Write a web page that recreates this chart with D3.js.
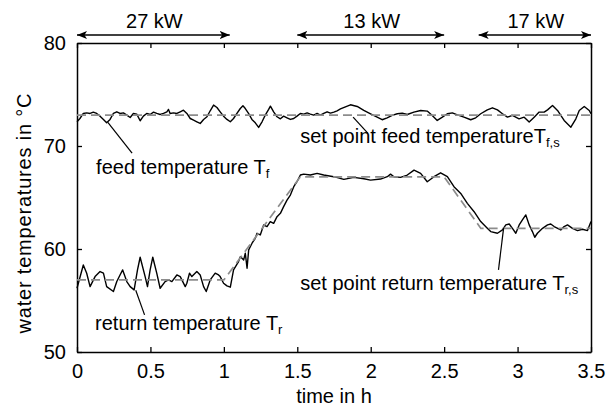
<!DOCTYPE html>
<html><head><meta charset="utf-8">
<script src="https://cdn.jsdelivr.net/npm/d3@7"></script>
<style>
body{margin:0;background:#fff}
text{font-family:"Liberation Sans",Arial,Helvetica,sans-serif;fill:#000}
</style>
</head><body><svg id="c" width="615" height="410"></svg>
<script>
// ---- data ----
const feedTime = [0,0.02,0.043,0.066,0.089,0.111,0.134,0.157,0.18,0.202,0.225,0.248,0.271,0.293,0.316,0.339,0.362,0.384,0.407,0.43,0.452,0.475,0.498,0.521,0.543,0.566,0.589,0.612,0.623,0.634,0.657,0.68,0.703,0.725,0.748,0.771,0.794,0.816,0.839,0.862,0.885,0.907,0.93,0.953,0.975,0.998,1.021,1.044,1.066,1.089,1.112,1.13,1.146,1.168,1.191,1.214,1.237,1.26,1.282,1.305,1.317,1.339,1.362,1.385,1.407,1.43,1.453,1.476,1.498,1.521,1.544,1.567,1.589,1.612,1.635,1.657,1.68,1.703,1.726,1.749,1.771,1.794,1.862,1.908,1.953,1.999,2.044,2.078,2.112,2.146,2.181,2.215,2.249,2.294,2.34,2.385,2.419,2.453,2.488,2.522,2.556,2.59,2.635,2.681,2.715,2.749,2.794,2.829,2.863,2.897,2.931,2.965,3.01,3.045,3.079,3.113,3.147,3.181,3.204,3.238,3.272,3.317,3.363,3.397,3.42,3.454,3.488,3.5];
const feedTemp = [72.35,72.67,73.16,73.22,73.16,73.29,73.16,72.9,72.58,72.25,72.58,73.16,73.32,73.16,73.22,73.0,72.77,73.16,73.1,72.45,72.9,73.16,73.06,73.29,73.16,73.06,73.16,73.32,73.55,73.16,73.22,73.16,73.32,73.48,73.16,72.67,72.51,72.35,72.19,72.58,72.84,73.42,73.97,73.74,73.32,72.9,72.58,72.35,72.67,73.16,73.64,73.9,73.64,73.16,72.58,72.25,71.8,72.35,73.0,73.55,73.87,73.32,72.84,72.64,72.9,72.74,72.58,72.67,72.9,73.16,73.1,73.22,73.1,73.0,73.16,73.0,73.16,73.32,73.19,73.29,73.42,73.6,74.0,73.84,73.45,73.13,72.8,72.55,72.74,72.97,73.13,73.19,73.06,73.29,73.45,73.39,72.97,72.48,72.8,73.13,73.22,73.03,72.8,72.55,72.74,73.13,73.51,73.71,73.51,73.13,72.8,72.97,72.64,72.8,72.32,72.8,73.29,73.29,73.51,73.93,73.45,72.48,71.83,72.64,73.45,73.84,73.45,73.13];

const returnTime = [0,0.043,0.066,0.089,0.123,0.157,0.18,0.202,0.248,0.271,0.293,0.311,0.339,0.362,0.389,0.412,0.43,0.464,0.48,0.498,0.516,0.543,0.566,0.6,0.623,0.646,0.68,0.703,0.737,0.748,0.766,0.782,0.816,0.839,0.862,0.88,0.907,0.941,0.964,0.975,0.998,1.021,1.044,
1.066,1.1,1.112,1.135,1.146,1.158,1.169,1.192,1.214,1.226,1.248,1.271,1.294,1.316,1.339,1.362,1.385,1.407,1.43,1.453,1.476,1.498,1.521,1.544,1.589,1.635,1.68,1.748,1.817,1.885,1.953,1.999,2.067,2.113,2.135,2.158,2.203,2.249,2.295,2.34,2.385,2.431,2.476,2.522,2.567,2.613,2.658,2.704,2.749,2.794,
2.817,2.863,2.897,2.92,2.943,2.965,2.988,3.011,3.033,3.056,3.079,3.101,3.117,3.135,3.17,3.204,3.226,3.249,3.294,3.317,3.34,3.374,3.408,3.442,3.476,3.5];
const returnTemp = [56.19,58.45,57.65,56.35,57.32,57.81,57.65,56.35,55.87,56.84,57.48,57.97,56.84,56.35,56.03,57.97,59.2,57.32,56.35,57.97,59.2,57.65,56.19,56.84,57.0,56.84,57.48,57.32,56.35,56.68,57.65,57.32,57.81,57.48,56.35,55.87,57.0,57.65,57.48,57.32,56.68,56.42,56.29,
57.97,58.78,59.26,58.94,59.59,58.13,59.91,60.56,61.04,61.52,61.36,62.33,62.17,62.66,62.49,63.14,63.46,64.11,64.75,65.24,66.05,66.53,67.18,67.27,67.18,67.34,67.18,67.02,66.76,66.95,66.82,66.69,66.79,67.02,67.27,67.02,66.95,67.18,67.66,67.34,66.53,67.02,67.4,67.02,66.05,65.4,64.43,63.62,62.66,62.01,
61.69,61.53,61.85,62.34,62.43,62.01,61.53,62.34,62.82,63.31,62.34,61.69,61.14,61.53,62.01,62.34,62.43,62.18,61.85,62.18,62.34,62.01,61.79,61.92,61.79,62.66];

const setFeedTime = [0, 3.5];
const setFeedTemp = [73, 73];
const setReturnTime = [0, 1.0, 1.52, 2.5, 2.75, 3.5];
const setReturnTemp = [57, 57, 67, 67, 62, 62];

const xTickValues = [0, 0.5, 1, 1.5, 2, 2.5, 3, 3.5];
const yTickValues = [50, 60, 70, 80];

const powerLabels = ["27 kW", "13 kW", "17 kW"];
const powerStart = [0, 1.5, 2.735];
const powerEnd = [1.04, 2.5, 3.5];

const xTitle = "time in h";
const yTitle = "water temperatures in °C";

const annoText = ["feed temperature T", "set point feed temperatureT", "return temperature T", "set point return temperature T"];
const annoSub = ["f", "f,s", "r", "r,s"];
const annoTime = [0.13, 1.52, 0.123, 1.52];
const annoTemp = [67.28, 70.28, 52.16, 56.04];
const leadFromTime = [0.21, 1.88, 0.40, 2.905];
const leadFromTemp = [72.3, 72.8, 56.0, 62.05];
const leadToTime = [0.375, 1.98, 0.46, 2.87];
const leadToTemp = [69.3, 71.25, 53.6, 57.97];

// ---- layout ----
const L = 77, R = 591, T = 43, B = 352;
const FS = 20;
const svg = d3.select("#c");
const x = d3.scaleLinear().domain([0, 3.5]).range([L, R]);
const y = d3.scaleLinear().domain([50, 80]).range([B, T]);

const fmt = d => d3.format("")(d);

const gB = svg.append("g").attr("transform", `translate(0,${B})`)
  .call(d3.axisBottom(x).tickValues(xTickValues).tickFormat(fmt).tickSizeInner(-5).tickSizeOuter(0).tickPadding(11.5));
const gT = svg.append("g").attr("transform", `translate(0,${T})`)
  .call(d3.axisTop(x).tickValues(xTickValues).tickFormat("").tickSizeInner(-5).tickSizeOuter(0));
const gL = svg.append("g").attr("transform", `translate(${L},0)`)
  .call(d3.axisLeft(y).tickValues(yTickValues).tickFormat(fmt).tickSizeInner(-5).tickSizeOuter(0).tickPadding(11));
const gR = svg.append("g").attr("transform", `translate(${R},0)`)
  .call(d3.axisRight(y).tickValues(yTickValues).tickFormat("").tickSizeInner(-5).tickSizeOuter(0));
[gB, gT, gL, gR].forEach(g => {
  g.selectAll(".domain").attr("stroke", "#000").attr("stroke-width", 1.5);
  g.selectAll(".tick line").attr("stroke", "#000").attr("stroke-width", 1.3);
  g.selectAll("text").attr("font-size", FS).attr("font-family", null).style("fill", "#000");
});

svg.append("text").attr("x", (L + R) / 2).attr("y", 403).attr("text-anchor", "middle")
  .attr("font-size", FS).text(xTitle);
svg.append("text").attr("transform", `translate(31,${(T + B) / 2 + 16}) rotate(-90)`)
  .attr("text-anchor", "middle").attr("font-size", FS).attr("textLength", 240).text(yTitle);

const line = d3.line().x(d => x(d[0])).y(d => y(d[1]));
const zip = (a, b) => a.map((v, i) => [v, b[i]]);

svg.append("path").datum(zip(feedTime, feedTemp)).attr("d", line)
  .attr("fill", "none").attr("stroke", "#000").attr("stroke-width", 1.4).attr("stroke-linejoin", "round");
svg.append("path").datum(zip(returnTime, returnTemp)).attr("d", line)
  .attr("fill", "none").attr("stroke", "#000").attr("stroke-width", 1.4).attr("stroke-linejoin", "round");
svg.append("path").datum(zip(setFeedTime, setFeedTemp)).attr("d", line)
  .attr("fill", "none").attr("stroke", "#8c8c8c").attr("stroke-width", 1.7).attr("stroke-dasharray", "9,5");
svg.append("path").datum(zip(setReturnTime, setReturnTemp)).attr("d", line)
  .attr("fill", "none").attr("stroke", "#8c8c8c").attr("stroke-width", 1.7).attr("stroke-dasharray", "9,5");

annoText.forEach((t, i) => {
  svg.append("line")
    .attr("x1", x(leadFromTime[i])).attr("y1", y(leadFromTemp[i]))
    .attr("x2", x(leadToTime[i])).attr("y2", y(leadToTemp[i]))
    .attr("stroke", "#000").attr("stroke-width", 1.2);
  const tx = svg.append("text").attr("x", x(annoTime[i])).attr("y", y(annoTemp[i])).attr("font-size", FS);
  tx.append("tspan").text(t);
  tx.append("tspan").attr("font-size", 13).attr("dy", 4).text(annoSub[i]);
});

const defs = svg.append("defs");
defs.append("marker").attr("id", "ah").attr("viewBox", "0 0 10 8").attr("refX", 10).attr("refY", 4)
  .attr("markerWidth", 10).attr("markerHeight", 8).attr("markerUnits", "userSpaceOnUse")
  .attr("orient", "auto-start-reverse")
  .append("path").attr("d", "M0,0 L10,4 L0,8 L2.5,4 Z").attr("fill", "#000");
powerLabels.forEach((lab, i) => {
  svg.append("line").attr("x1", x(powerStart[i])).attr("x2", x(powerEnd[i]))
    .attr("y1", 35).attr("y2", 35).attr("stroke", "#000").attr("stroke-width", 1.5)
    .attr("marker-start", "url(#ah)").attr("marker-end", "url(#ah)");
  svg.append("text").attr("x", (x(powerStart[i]) + x(powerEnd[i])) / 2 + 1).attr("y", 28)
    .attr("text-anchor", "middle").attr("font-size", FS).text(lab);
});
</script>
</body></html>
